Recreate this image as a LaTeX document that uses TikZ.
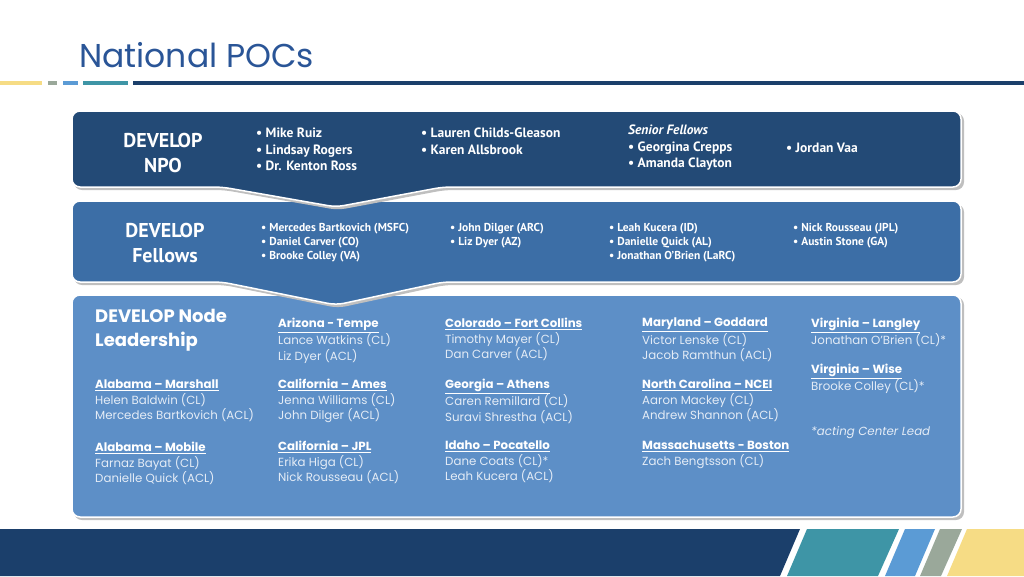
\documentclass[tikz,border=0pt]{standalone}
\usepackage{fontspec}
\setmainfont{Poppins}
\newfontfamily\cond{PT Sans}
\definecolor{navy}{HTML}{1B3F6B}
\definecolor{npo}{HTML}{234A76}
\definecolor{fel}{HTML}{3C6EA6}
\definecolor{nodebg}{HTML}{5D8FC7}
\definecolor{titlec}{HTML}{2A5597}
\definecolor{teal}{HTML}{3E95A6}
\definecolor{lblue}{HTML}{5B9BD5}
\definecolor{grayc}{HTML}{9AA89A}
\definecolor{yel}{HTML}{F6DC85}
\definecolor{soft}{HTML}{E4ECF6}
\begin{document}
\begin{tikzpicture}[x=1pt,y=-1pt,
  box/.style={draw=white,line width=1.5pt,rounded corners=8pt},
  shadow/.style={fill=black!25,rounded corners=8pt},
  big/.style={text=white,font=\cond\bfseries\fontsize{20}{25}\selectfont,align=center},
  blt/.style={text=white,font=\cond\bfseries\fontsize{13.5}{16.5}\selectfont,align=left,anchor=north west,inner sep=0pt},
  sblt/.style={text=white,font=\cond\bfseries\fontsize{11.5}{14}\selectfont,align=left,anchor=north west,inner sep=0pt},
  blk/.style={text=soft,font=\fontsize{11.8}{15.5}\selectfont,align=left,anchor=north west,inner sep=0pt}]
\useasboundingbox (0,0) rectangle (1024,576);
\node[anchor=base west,text=titlec,font=\fontsize{33}{36}\selectfont,inner sep=0pt] (title) at (79,67) {National POCs};
% top rule
\fill[yel] (0,81) rectangle (42,85);
\fill[grayc] (48,81) rectangle (57,85);
\fill[lblue] (63,81) rectangle (78,85);
\fill[teal] (83,81) rectangle (128,85);
\fill[navy] (133,81) rectangle (1024,85);
% bottom band
\fill[navy] (0,529) -- (800,529) -- (780,576) -- (0,576) -- cycle;
\fill[teal] (807,529) -- (899,529) -- (878,576) -- (787,576) -- cycle;
\fill[lblue] (905,529) -- (935,529) -- (915,576) -- (885,576) -- cycle;
\fill[grayc] (940,529) -- (962,529) -- (941,576) -- (920,576) -- cycle;
\fill[yel] (967,529) -- (1024,529) -- (1024,576) -- (947,576) -- cycle;
% boxes
\fill[shadow] (74,297) rectangle (964,520);
\draw[box,fill=nodebg] (72,295) rectangle (961,517);
\fill[shadow] (74,204) -- (964,204) -- (964,285) -- (445,285) -- (338,308) -- (224,285) -- (74,285) -- cycle;
\draw[box,fill=fel] (72,201) -- (961,201) -- (961,282) -- (443,282) -- (336,305) -- (222,282) -- (72,282) -- cycle;
\fill[shadow] (74,113) -- (964,113) -- (964,190) -- (445,190) -- (338,210) -- (224,190) -- (74,190) -- cycle;
\draw[box,fill=npo] (72,111) -- (961,111) -- (961,187) -- (443,187) -- (336,207) -- (222,187) -- (72,187) -- cycle;
% NPO
\node[big] (npo) at (163,153) {DEVELOP\\NPO};
\node[blt] (n1) at (256,128) {• Mike Ruiz\\• Lindsay Rogers\\• Dr. Kenton Ross};
\node[blt] (n2) at (421,128) {• Lauren Childs-Gleason\\• Karen Allsbrook};
\node[blt] (n3) at (628,125) {\itshape Senior Fellows\\• Georgina Crepps\\• Amanda Clayton};
\node[blt] (n4) at (786,143) {• Jordan Vaa};
% Fellows
\node[big] (fel) at (165,243) {DEVELOP\\Fellows};
\node[sblt] (f1) at (261,223) {• Mercedes Bartkovich (MSFC)\\• Daniel Carver (CO)\\• Brooke Colley (VA)};
\node[sblt] (f2) at (450,223) {• John Dilger (ARC)\\• Liz Dyer (AZ)};
\node[sblt] (f3) at (609,223) {• Leah Kucera (ID)\\• Danielle Quick (AL)\\• Jonathan O’Brien (LaRC)};
\node[sblt] (f4) at (793,223) {• Nick Rousseau (JPL)\\• Austin Stone (GA)};
% Node leadership
\node[text=white,font=\bfseries\fontsize{18}{24}\selectfont,align=left,anchor=north west,inner sep=0pt] (nl) at (95,309) {DEVELOP Node\\Leadership};
\node[blk] (a1) at (278,318) {\textcolor{white}{\bfseries\underline{Arizona - Tempe}}\\Lance Watkins (CL)\\Liz Dyer (ACL)};
\node[blk] (a2) at (445,318) {\textcolor{white}{\bfseries\underline{Colorado – Fort Collins}}\\Timothy Mayer (CL)\\Dan Carver (ACL)};
\node[blk] (a3) at (642,318) {\textcolor{white}{\bfseries\underline{Maryland – Goddard}}\\Victor Lenske (CL)\\Jacob Ramthun (ACL)};
\node[blk] (a4) at (811,318) {\textcolor{white}{\bfseries\underline{Virginia – Langley}}\\Jonathan O’Brien (CL)*};
\node[blk] (b0) at (95,380) {\textcolor{white}{\bfseries\underline{Alabama – Marshall}}\\Helen Baldwin (CL)\\Mercedes Bartkovich (ACL)};
\node[blk] (b1) at (278,379) {\textcolor{white}{\bfseries\underline{California – Ames}}\\Jenna Williams (CL)\\John Dilger (ACL)};
\node[blk] (b2) at (445,379) {\textcolor{white}{\bfseries\underline{Georgia – Athens}}\\Caren Remillard (CL)\\Suravi Shrestha (ACL)};
\node[blk] (b3) at (642,379) {\textcolor{white}{\bfseries\underline{North Carolina – NCEI}}\\Aaron Mackey (CL)\\Andrew Shannon (ACL)};
\node[blk] (b4) at (811,364) {\textcolor{white}{\bfseries\underline{Virginia – Wise}}\\Brooke Colley (CL)*};
\node[blk] (c0) at (95,442) {\textcolor{white}{\bfseries\underline{Alabama – Mobile}}\\Farnaz Bayat (CL)\\Danielle Quick (ACL)};
\node[blk] (c1) at (278,441) {\textcolor{white}{\bfseries\underline{California – JPL}}\\Erika Higa (CL)\\Nick Rousseau (ACL)};
\node[blk] (c2) at (445,441) {\textcolor{white}{\bfseries\underline{Idaho – Pocatello}}\\Dane Coats (CL)*\\Leah Kucera (ACL)};
\node[blk] (c3) at (642,441) {\textcolor{white}{\bfseries\underline{Massachusetts - Boston}}\\Zach Bengtsson (CL)};
\node[blk,font=\itshape\fontsize{11.8}{15.5}\selectfont] (c4) at (811,426) {*acting Center Lead};
\end{tikzpicture}
\end{document}
